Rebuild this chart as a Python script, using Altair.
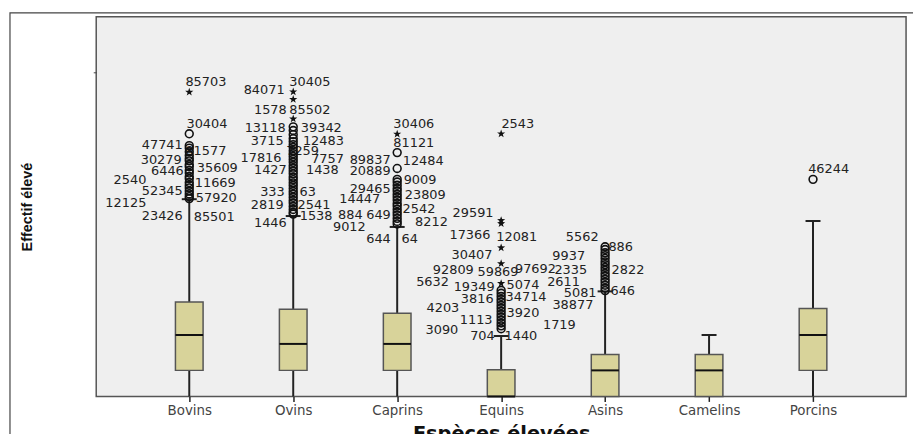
import altair as alt
import pandas as pd

# ---------------- data ----------------
species = ["Bovins", "Ovins", "Caprins", "Equins", "Asins", "Camelins", "Porcins"]
q1 = [263, 263, 263, 0, 0, 0, 263]
median = [620, 530, 530, 0, 263, 263, 620]
q3 = [953, 880, 840, 270, 423, 423, 887]
whisker_low = [0, 0, 0, 0, 0, 0, 0]
whisker_high = [1990, 1820, 1710, 610, 1060, 620, 1770]

# outliers (o) and extreme values (*)
bovins_circles = [2650, 2530, 2505, 2468, 2432, 2401, 2377, 2340, 2318, 2281,
                  2254, 2219, 2196, 2158, 2131, 2104, 2072, 2043, 2016, 1996]
bovins_stars = [3070]
ovins_circles = [2720, 2683, 2641, 2602, 2571, 2540, 2512, 2478, 2449, 2420,
                 2391, 2362, 2330, 2303, 2274, 2246, 2213, 2187, 2155, 2128,
                 2097, 2068, 2041, 2009, 1978, 1951, 1917, 1886, 1858, 1840]
ovins_stars = [3073, 2997, 2800]
caprins_circles = [2460, 2300, 2190, 2163, 2131, 2098, 2072, 2040, 2011, 1982,
                   1947, 1921, 1889, 1858, 1830, 1797, 1766, 1740]
caprins_stars = [2647]
equins_circles = [1070, 1041, 1010, 979, 951, 919, 891, 860, 829, 801, 770, 741, 712, 683]
equins_stars = [2650, 1775, 1745, 1500, 1340, 1140]
asins_circles = [1510, 1482, 1449, 1421, 1392, 1358, 1330, 1301, 1272, 1240,
                 1213, 1181, 1153, 1122, 1093, 1068]
asins_stars = []
camelins_circles = []
camelins_stars = []
porcins_circles = [2190]
porcins_stars = []

# case labels: (text, value, offset from the box centre in category steps)
bovins_labels = [("85703", 3173, 0.16), ("30404", 2750, 0.17), ("47741", 2540, -0.26),
                 ("81577", 2473, 0.16), ("30279", 2380, -0.27), ("35609", 2300, 0.27),
                 ("6446", 2270, -0.21), ("2540", 2187, -0.57), ("11669", 2157, 0.25),
                 ("52345", 2070, -0.26), ("57920", 1997, 0.26), ("12125", 1953, -0.61),
                 ("23426", 1823, -0.26), ("85501", 1813, 0.24)]
ovins_labels = [("84071", 3090, -0.28), ("30405", 3173, 0.16), ("1578", 2890, -0.22),
                ("85502", 2890, 0.16), ("13118", 2707, -0.27), ("39342", 2707, 0.27),
                ("3715", 2573, -0.25), ("12483", 2573, 0.29), ("7259", 2473, 0.09),
                ("17816", 2407, -0.31), ("7757", 2397, 0.33), ("1427", 2280, -0.22),
                ("1438", 2280, 0.28), ("333", 2063, -0.20), ("63", 2063, 0.14),
                ("2819", 1930, -0.25), ("2541", 1930, 0.20), ("1538", 1823, 0.22),
                ("1446", 1753, -0.22)]
caprins_labels = [("30406", 2747, 0.16), ("81121", 2553, 0.16), ("89837", 2380, -0.26),
                  ("12484", 2373, 0.25), ("20889", 2270, -0.26), ("9009", 2180, 0.22),
                  ("29465", 2097, -0.26), ("23809", 2030, 0.27), ("14447", 1987, -0.36),
                  ("2542", 1890, 0.21), ("884", 1830, -0.45), ("649", 1830, -0.18),
                  ("8212", 1757, 0.33), ("9012", 1707, -0.46), ("644", 1587, -0.18),
                  ("64", 1587, 0.12)]
equins_labels = [("2543", 2747, 0.16), ("29591", 1847, -0.27), ("17366", 1630, -0.30),
                 ("12081", 1607, 0.15), ("30407", 1430, -0.28), ("92809", 1273, -0.46),
                 ("59869", 1253, -0.03), ("5632", 1153, -0.66), ("5074", 1123, 0.21),
                 ("19349", 1107, -0.26), ("34714", 1007, 0.24), ("3816", 980, -0.23),
                 ("4203", 887, -0.56), ("3920", 840, 0.21), ("1113", 773, -0.24),
                 ("1719", 720, 0.56), ("3090", 673, -0.57), ("704", 607, -0.18),
                 ("1440", 607, 0.19)]
asins_labels = [("5562", 1607, -0.22), ("886", 1507, 0.15), ("9937", 1413, -0.35),
                ("97692", 1287, -0.67), ("2335", 1273, -0.33), ("2822", 1273, 0.22),
                ("2611", 1153, -0.40), ("646", 1060, 0.17), ("5081", 1040, -0.24),
                ("38877", 920, -0.31)]
camelins_labels = []
porcins_labels = [("46244", 2290, 0.15)]

circles = [bovins_circles, ovins_circles, caprins_circles, equins_circles,
           asins_circles, camelins_circles, porcins_circles]
stars = [bovins_stars, ovins_stars, caprins_stars, equins_stars,
         asins_stars, camelins_stars, porcins_stars]
labels = [bovins_labels, ovins_labels, caprins_labels, equins_labels,
          asins_labels, camelins_labels, porcins_labels]

# ---------------- tables ----------------
box_df = pd.DataFrame({"pos": list(range(len(species))), "species": species,
                       "q1": q1, "median": median, "q3": q3,
                       "lo": whisker_low, "hi": whisker_high})
circle_df = pd.DataFrame([{"pos": i, "value": v} for i, vals in enumerate(circles) for v in vals])
star_df = pd.DataFrame([{"pos": i, "value": v} for i, vals in enumerate(stars) for v in vals])
label_df = pd.DataFrame([{"pos": i, "text": t, "value": v, "off": o}
                         for i, labs in enumerate(labels) for (t, v, o) in labs])

BOX_HALF = 0.133
CAP_HALF = 0.072
STAR = ("M0,-1L0.235,-0.324L0.951,-0.309L0.380,0.124L0.588,0.809L0,0.4"
        "L-0.588,0.809L-0.380,0.124L-0.951,-0.309L-0.235,-0.324Z")

label_expr = "[" + ",".join("'%s'" % s for s in species) + "][datum.value]"

x_scale = alt.Scale(domain=[-0.895, 6.895], nice=False, zero=False)
y_scale = alt.Scale(domain=[0, 3830], nice=False, zero=False)

x_axis = alt.Axis(values=list(range(len(species))), labelExpr=label_expr, grid=False,
                  domain=False, ticks=True, tickSize=5, tickColor="#222", tickWidth=1.5,
                  labelFont="DejaVu Sans", labelFontSize=13.5, labelColor="#444",
                  labelPadding=2, title="Espèces élevées", titleFont="DejaVu Sans",
                  titleFontSize=19.5, titleFontWeight="bold", titleColor="#111",
                  titlePadding=8)
y_axis = alt.Axis(values=[3270], labels=False, grid=False, domain=False, ticks=True,
                  tickSize=3, tickColor="#444", title="Effectif élevé",
                  titleFont="Liberation Sans", titleFontSize=14.5,
                  titleFontWeight="bold", titleColor="#111", titlePadding=59)

base = alt.Chart(box_df)

frame = alt.Chart(alt.Data(values=[{"f": 1}])).mark_rect(
    fillOpacity=0, stroke="#444", strokeWidth=1.2
).encode(x=alt.value(-87), x2=alt.value(840), y=alt.value(-4), y2=alt.value(440))

lower = base.mark_rule(color="#222", strokeWidth=2).encode(
    x=alt.X("pos:Q", scale=x_scale, axis=x_axis),
    y=alt.Y("lo:Q", scale=y_scale, axis=y_axis),
    y2="q1:Q")
upper = base.mark_rule(color="#222", strokeWidth=2).encode(
    x="pos:Q", y="q3:Q", y2="hi:Q")
caps = base.transform_calculate(
    cl=f"datum.pos - {CAP_HALF}", cr=f"datum.pos + {CAP_HALF}"
).mark_rule(color="#222", strokeWidth=2).encode(x="cl:Q", x2="cr:Q", y="hi:Q")
boxes = base.transform_calculate(
    xl=f"datum.pos - {BOX_HALF}", xr=f"datum.pos + {BOX_HALF}"
).mark_rect(fill="#d8d39a", stroke="#555", strokeWidth=1.5).encode(
    x="xl:Q", x2="xr:Q", y="q1:Q", y2="q3:Q")
medians = base.transform_calculate(
    xl=f"datum.pos - {BOX_HALF}", xr=f"datum.pos + {BOX_HALF}"
).mark_rule(color="#111", strokeWidth=2).encode(x="xl:Q", x2="xr:Q", y="median:Q")

texts = alt.Chart(label_df).transform_calculate(
    lx="datum.pos + datum.off"
).mark_text(font="DejaVu Sans", fontSize=13, color="#222",
            align="center", baseline="middle").encode(
    x="lx:Q", y="value:Q", text="text:N")

pts = alt.Chart(circle_df).mark_point(
    shape="circle", filled=False, size=62, strokeWidth=1.6, color="#111", opacity=1
).encode(x="pos:Q", y="value:Q")
st = alt.Chart(star_df).mark_point(
    shape=STAR, filled=True, size=75, color="#111", opacity=1
).encode(x="pos:Q", y="value:Q")

chart = alt.layer(lower, frame, upper, caps, boxes, medians, texts, pts, st).properties(
    width=817, height=383,
    autosize=alt.AutoSizeParams(type="none"),
    padding={"left": 89, "top": 7, "right": 7, "bottom": 36},
    background="white",
).configure_view(fill="#efefef", stroke="#555", strokeWidth=1.5)

chart.save("out.html", embed_options={"renderer": "svg", "actions": False})
